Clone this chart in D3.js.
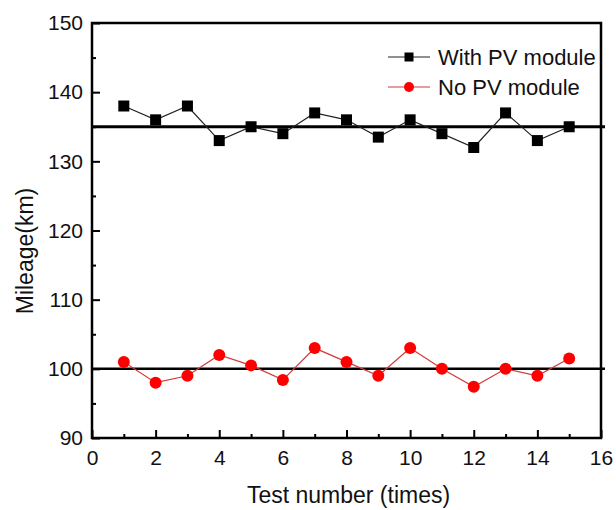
<!DOCTYPE html>
<html>
<head>
<meta charset="utf-8">
<script src="https://cdn.jsdelivr.net/npm/d3@7/dist/d3.min.js"></script>
<style>
  html, body { margin: 0; padding: 0; background: #fff; }
  svg { display: block; }
  text { font-family: "Liberation Sans", Arial, sans-serif; fill: #111; }
</style>
</head>
<body>
<svg id="chart" width="616" height="510"></svg>
<script>
// Mileage per test run, with and without the PV module
const testNumbers = [1, 2, 3, 4, 5, 6, 7, 8, 9, 10, 11, 12, 13, 14, 15];
const withPV = [138, 136, 138, 133, 135, 134, 137, 136, 133.5, 136, 134, 132, 137, 133, 135];
const noPV = [101, 98, 99, 102, 100.5, 98.4, 103, 101, 99, 103, 100, 97.4, 100, 99, 101.5];
// Average mileage reference lines
const averages = [135, 100];
const seriesNames = ["With PV module", "No PV module"];
const xTicks = [0, 2, 4, 6, 8, 10, 12, 14, 16];
const yTicks = [90, 100, 110, 120, 130, 140, 150];
const xLabel = "Test number (times)";
const yLabel = "Mileage(km)";

const svg = d3.select("#chart");
const plotL = 92, plotR = 601, plotT = 23, plotB = 438;

const x = d3.scaleLinear().domain([0, 16]).range([plotL, plotR]);
const y = d3.scaleLinear().domain([90, 150]).range([plotB, plotT]);

// Minor ticks
const xMinor = d3.range(1, 16, 2);
const yMinor = d3.range(95, 150, 10);

const g = svg.append("g");
const tickFont = 21;

// Bottom axis (ticks pointing inward)
const xAxis = d3.axisBottom(x).tickValues(xTicks).tickSize(-8).tickPadding(12).tickFormat(d3.format("d"));
const gx = g.append("g").attr("transform", `translate(0,${plotB})`).call(xAxis);
gx.select(".domain").remove();
gx.selectAll(".tick line").attr("stroke", "#000").attr("stroke-width", 2);
gx.selectAll(".tick text").attr("font-size", tickFont).style("font-family", "Liberation Sans, Arial, sans-serif").attr("fill", "#111");
g.append("g").attr("transform", `translate(0,${plotB})`)
  .call(d3.axisBottom(x).tickValues(xMinor).tickSize(-4).tickFormat(""))
  .call(s => s.select(".domain").remove())
  .selectAll("line").attr("stroke", "#000").attr("stroke-width", 2);

// Left axis (ticks pointing inward)
const yAxis = d3.axisLeft(y).tickValues(yTicks).tickSize(-8).tickPadding(9).tickFormat(d3.format("d"));
const gy = g.append("g").attr("transform", `translate(${plotL},0)`).call(yAxis);
gy.select(".domain").remove();
gy.selectAll(".tick line").attr("stroke", "#000").attr("stroke-width", 2);
gy.selectAll(".tick text").attr("font-size", tickFont).style("font-family", "Liberation Sans, Arial, sans-serif").attr("fill", "#111");
g.append("g").attr("transform", `translate(${plotL},0)`)
  .call(d3.axisLeft(y).tickValues(yMinor).tickSize(-4).tickFormat(""))
  .call(s => s.select(".domain").remove())
  .selectAll("line").attr("stroke", "#000").attr("stroke-width", 2);

// Average lines, running slightly past the right frame
g.selectAll("line.avg").data(averages).enter().append("line")
  .attr("class", "avg")
  .attr("x1", plotL).attr("x2", plotR + 4)
  .attr("y1", d => y(d)).attr("y2", d => y(d))
  .attr("stroke", "#000")
  .attr("stroke-width", (d, i) => i === 0 ? 3 : 2.5);

// Frame
g.append("rect")
  .attr("x", plotL).attr("y", plotT)
  .attr("width", plotR - plotL).attr("height", plotB - plotT)
  .attr("fill", "none").attr("stroke", "#000").attr("stroke-width", 2.5);

const line = d3.line().x(d => x(d[0])).y(d => y(d[1]));

// No PV module series
const noData = testNumbers.map((t, i) => [t, noPV[i]]);
g.append("path").datum(noData).attr("d", line)
  .attr("fill", "none").attr("stroke", "#d43a3a").attr("stroke-width", 1.2);
g.selectAll("circle.no").data(noData).enter().append("circle")
  .attr("class", "no")
  .attr("cx", d => x(d[0])).attr("cy", d => y(d[1])).attr("r", 6)
  .attr("fill", "#f00");

// With PV module series
const pvData = testNumbers.map((t, i) => [t, withPV[i]]);
g.append("path").datum(pvData).attr("d", line)
  .attr("fill", "none").attr("stroke", "#222").attr("stroke-width", 1.2);
const sq = 11;
g.selectAll("rect.pv").data(pvData).enter().append("rect")
  .attr("class", "pv")
  .attr("x", d => x(d[0]) - sq / 2).attr("y", d => y(d[1]) - sq / 2)
  .attr("width", sq).attr("height", sq)
  .attr("fill", "#000");

// Legend
const legend = g.append("g");
const legRows = [
  { name: seriesNames[0], color: "#222", marker: "square", yPos: 57 },
  { name: seriesNames[1], color: "#d43a3a", marker: "circle", yPos: 87 }
];
legRows.forEach(r => {
  legend.append("line").attr("x1", 388).attr("x2", 430)
    .attr("y1", r.yPos).attr("y2", r.yPos)
    .attr("stroke", r.color).attr("stroke-width", 1.2);
  if (r.marker === "square") {
    legend.append("rect").attr("x", 409 - 4.5).attr("y", r.yPos - 4.5)
      .attr("width", 9).attr("height", 9).attr("fill", "#000");
  } else {
    legend.append("circle").attr("cx", 409).attr("cy", r.yPos).attr("r", 5).attr("fill", "#f00");
  }
  legend.append("text").attr("x", 438).attr("y", r.yPos).attr("dy", "0.36em")
    .attr("font-size", 22).text(r.name);
});

// Axis titles
g.append("text").attr("x", (plotL + plotR) / 2 + 2).attr("y", 503)
  .attr("text-anchor", "middle").attr("font-size", 23).text(xLabel);
g.append("text").attr("transform", `translate(33,251) rotate(-90)`)
  .attr("text-anchor", "middle").attr("font-size", 23).text(yLabel);
</script>
</body>
</html>
